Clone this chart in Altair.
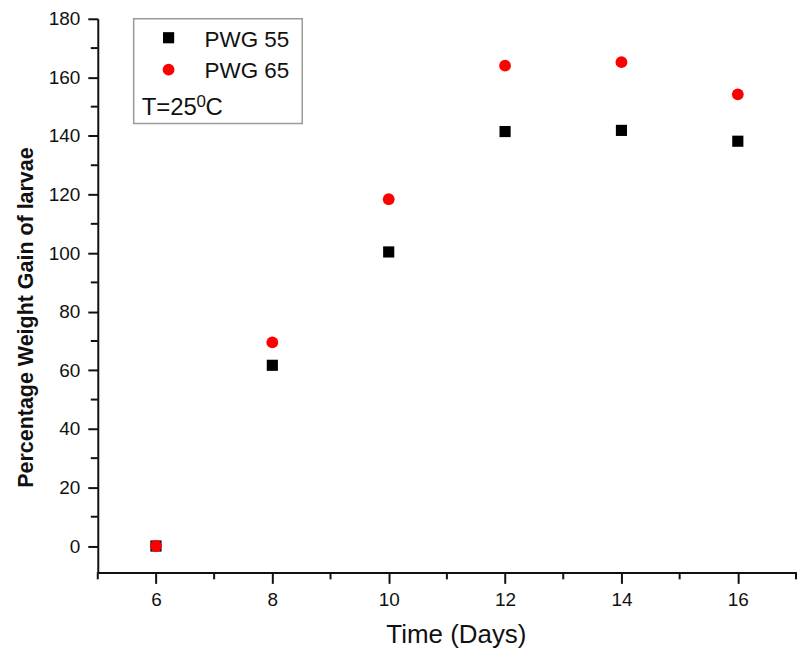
import altair as alt
import pandas as pd

# ---- data ----
days = [6, 8, 10, 12, 14, 16]
pwg55 = [0, 61.7, 100.4, 141.5, 141.9, 138.2]
pwg65 = [0, 69.5, 118.4, 164.0, 165.2, 154.2]
series_names = ["PWG 55", "PWG 65"]
note_main = "T=25"
note_sup = "0"
note_tail = "C"
x_major = [6, 8, 10, 12, 14, 16]
x_minor = [5, 7, 9, 11, 13, 15, 17]
y_major = [0, 20, 40, 60, 80, 100, 120, 140, 160, 180]
y_minor = [10, 30, 50, 70, 90, 110, 130, 150, 170]

FONT = "Liberation Sans"
AX = "#111111"

df55 = pd.DataFrame({"day": days, "pwg": pwg55})
df65 = pd.DataFrame({"day": days, "pwg": pwg65})
dfxm = pd.DataFrame({"v": x_minor})
dfym = pd.DataFrame({"v": y_minor})
one = pd.DataFrame({"a": [0]})

xscale = alt.Scale(domain=[5, 17], nice=False, zero=False)
yscale = alt.Scale(domain=[-9, 180], nice=False, zero=False)

xaxis = alt.Axis(values=x_major, title="Time (Days)", tickSize=11, labelPadding=7,
                 titleFontSize=26, titleFontWeight="normal", titleX=359, titleY=70,
                 titleAlign="center", titleBaseline="alphabetic")
yaxis = alt.Axis(values=y_major, title="Percentage Weight Gain of larvae", tickSize=10,
                 labelPadding=8, titleFontSize=21.5, titleFontWeight="bold",
                 titleX=-71, titleY=299, titleAngle=270, titleAlign="center",
                 titleBaseline="middle")

X = alt.X("day:Q", scale=xscale, axis=xaxis)
Y = alt.Y("pwg:Q", scale=yscale, axis=yaxis)

black = alt.Chart(df55).mark_point(shape="square", filled=True, size=125,
                                   color="#000000", opacity=1).encode(x=X, y=Y)
red = alt.Chart(df65).mark_point(shape="circle", filled=True, size=140,
                                 color="#ff0000", opacity=1).encode(x=X, y=Y)

xmin = alt.Chart(dfxm).mark_rule(color=AX, strokeWidth=2).encode(
    x=alt.X("v:Q", scale=xscale, axis=xaxis), y=alt.value(555), y2=alt.value(562))
ymin = alt.Chart(dfym).mark_rule(color=AX, strokeWidth=2).encode(
    y=alt.Y("v:Q", scale=yscale, axis=yaxis), x=alt.value(-7), x2=alt.value(0))

box = alt.Chart(one).mark_rect(fill="white", stroke="#9a9a9a", strokeWidth=1.5).encode(
    x=alt.value(36), x2=alt.value(205), y=alt.value(0), y2=alt.value(105))
lsq = alt.Chart(one).mark_point(shape="square", filled=True, size=125, color="#000000",
                                opacity=1).encode(x=alt.value(71), y=alt.value(19))
lci = alt.Chart(one).mark_point(shape="circle", filled=True, size=140, color="#ff0000",
                                opacity=1).encode(x=alt.value(71), y=alt.value(51))


def txt(s, x, y, size, baseline="alphabetic"):
    return alt.Chart(one).mark_text(align="left", baseline=baseline, font=FONT,
                                    fontSize=size, color="#111111").encode(
        x=alt.value(x), y=alt.value(y), text=alt.value(s))


t1 = txt(series_names[0], 107, 28, 22.5)
t2 = txt(series_names[1], 107, 59, 22.5)
t3 = txt(note_main, 44, 96, 24)
t4 = txt(note_sup, 99, 75, 17, baseline="top")
t5 = txt(note_tail, 108, 96, 24)

chart = alt.layer(xmin, ymin, box, lsq, lci, t1, t2, t3, t4, t5, black, red).properties(
    width=700, height=555, autosize="none",
    padding={"left": 90, "top": 10, "right": 2, "bottom": 78},
).configure_view(stroke="transparent").configure_axis(
    grid=False, domainColor=AX, domainWidth=2, tickColor=AX, tickWidth=2,
    labelFont=FONT, labelFontSize=19, labelColor="#111111",
    titleFont=FONT, titleColor="#111111",
)

chart.save("out.html", embed_options={"renderer": "svg", "actions": False})
